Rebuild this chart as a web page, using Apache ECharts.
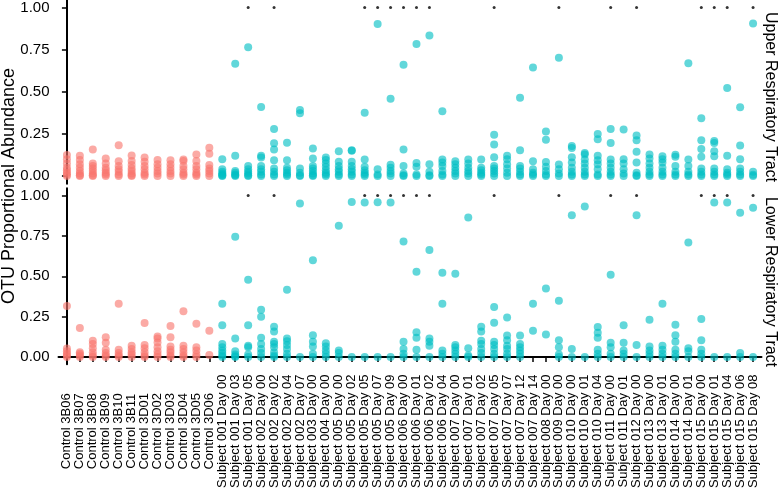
<!DOCTYPE html>
<html>
<head>
<meta charset="utf-8">
<script src="https://cdn.jsdelivr.net/npm/echarts@6/dist/echarts.min.js"></script>
<style>
  html, body { margin: 0; padding: 0; background: #fff; }
  #chart { width: 778px; height: 491px; }
</style>
</head>
<body>
<div id="chart"></div>
<script>
////--------------------------------------------------------------------////
const categories = [
    "Control 3B06", "Control 3B07", "Control 3B08", "Control 3B09", "Control 3B10", "Control 3B11",
    "Control 3D01", "Control 3D02", "Control 3D03", "Control 3D04", "Control 3D05", "Control 3D06",
    "Subject 001 Day 00", "Subject 001 Day 03", "Subject 001 Day 05",
    "Subject 002 Day 00", "Subject 002 Day 02", "Subject 002 Day 04", "Subject 002 Day 07",
    "Subject 003 Day 00", "Subject 004 Day 00",
    "Subject 005 Day 00", "Subject 005 Day 02", "Subject 005 Day 05", "Subject 005 Day 07", "Subject 005 Day 09",
    "Subject 006 Day 00", "Subject 006 Day 01", "Subject 006 Day 02", "Subject 006 Day 04",
    "Subject 007 Day 00", "Subject 007 Day 01", "Subject 007 Day 02", "Subject 007 Day 05",
    "Subject 007 Day 07", "Subject 007 Day 12", "Subject 007 Day 14",
    "Subject 008 Day 00", "Subject 009 Day 00",
    "Subject 010 Day 00", "Subject 010 Day 01", "Subject 010 Day 04",
    "Subject 011 Day 00", "Subject 011 Day 01", "Subject 012 Day 00",
    "Subject 013 Day 00", "Subject 013 Day 01", "Subject 014 Day 00", "Subject 014 Day 01",
    "Subject 015 Day 00", "Subject 015 Day 01", "Subject 015 Day 04", "Subject 015 Day 06", "Subject 015 Day 08"
];
const controlCount = 12;

// Upper Respiratory Tract, one list of OTU values per sample
const upperValues = [
    [0.125, 0.1, 0.075, 0.05, 0.035, 0.02, 0.01, 0],
    [0.12, 0.095, 0.07, 0.05, 0.03, 0.015, 0.005, 0],
    [0.157, 0.075, 0.06, 0.045, 0.03, 0.015, 0.005, 0],
    [0.105, 0.075, 0.05, 0.035, 0.02, 0.01, 0],
    [0.183, 0.088, 0.06, 0.04, 0.025, 0.01, 0],
    [0.122, 0.09, 0.065, 0.045, 0.03, 0.015, 0.005, 0],
    [0.11, 0.085, 0.06, 0.04, 0.02, 0.01, 0],
    [0.095, 0.07, 0.05, 0.03, 0.015, 0],
    [0.094, 0.07, 0.05, 0.03, 0.015, 0],
    [0.098, 0.09, 0.06, 0.04, 0.02, 0.01, 0],
    [0.128, 0.09, 0.06, 0.04, 0.02, 0.01, 0],
    [0.168, 0.133, 0.065, 0.045, 0.03, 0.015, 0],
    [0.1, 0.04, 0.025, 0.015, 0.008, 0.003, 0],
    [0.667, 0.12, 0.03, 0.02, 0.01, 0.005, 0],
    [0.765, 0.06, 0.04, 0.025, 0.015, 0.005, 0],
    [0.41, 0.12, 0.11, 0.06, 0.04, 0.025, 0.01, 0],
    [0.28, 0.195, 0.158, 0.094, 0.045, 0.025, 0.01, 0],
    [0.198, 0.094, 0.05, 0.035, 0.02, 0.01, 0],
    [0.392, 0.373, 0.045, 0.02, 0.005, 0],
    [0.163, 0.104, 0.06, 0.045, 0.03, 0.015, 0.005, 0],
    [0.11, 0.095, 0.075, 0.055, 0.035, 0.02, 0.01, 0],
    [0.147, 0.085, 0.06, 0.04, 0.025, 0.01, 0],
    [0.153, 0.15, 0.085, 0.06, 0.04, 0.025, 0.01, 0],
    [0.376, 0.098, 0.055, 0.035, 0.02, 0.01, 0],
    [0.902, 0.04, 0.01, 0],
    [0.459, 0.067, 0.05, 0.03, 0.015, 0],
    [0.66, 0.158, 0.06, 0.015, 0.005, 0],
    [0.784, 0.078, 0.055, 0.01, 0],
    [0.835, 0.07, 0.025, 0.005, 0],
    [0.384, 0.098, 0.08, 0.06, 0.03, 0.01, 0],
    [0.088, 0.07, 0.05, 0.03, 0.015, 0],
    [0.098, 0.075, 0.05, 0.03, 0.015, 0],
    [0.098, 0.05, 0.035, 0.02, 0.01, 0],
    [0.245, 0.188, 0.111, 0.06, 0.045, 0.03, 0.015, 0],
    [0.12, 0.1, 0.07, 0.045, 0.02, 0],
    [0.465, 0.153, 0.06, 0.045, 0.025, 0.01, 0],
    [0.645, 0.088, 0.04, 0.02, 0.01, 0],
    [0.265, 0.216, 0.084, 0.055, 0.03, 0.01, 0],
    [0.702, 0.069, 0.04, 0.015, 0],
    [0.178, 0.167, 0.111, 0.08, 0.05, 0.025, 0.01, 0],
    [0.137, 0.128, 0.098, 0.075, 0.05, 0.025, 0.01, 0],
    [0.25, 0.218, 0.12, 0.094, 0.07, 0.04, 0.01, 0],
    [0.28, 0.196, 0.098, 0.075, 0.05, 0.025, 0.01, 0],
    [0.277, 0.1, 0.075, 0.04, 0.015, 0],
    [0.241, 0.212, 0.145, 0.08, 0.02, 0.005, 0],
    [0.128, 0.105, 0.075, 0.05, 0.025, 0.01, 0],
    [0.118, 0.1, 0.08, 0.05, 0.025, 0.01, 0],
    [0.127, 0.115, 0.06, 0.025, 0.01, 0],
    [0.669, 0.098, 0.06, 0.025, 0.01, 0],
    [0.343, 0.212, 0.16, 0.114, 0.045, 0.025, 0.01, 0],
    [0.208, 0.196, 0.147, 0.118, 0.045, 0.025, 0.01, 0],
    [0.522, 0.12, 0.04, 0.02, 0.01, 0],
    [0.408, 0.182, 0.1, 0.045, 0.025, 0.01, 0],
    [0.906, 0.025, 0.008, 0]
];

// Lower Respiratory Tract
const lowerValues = [
    [0.316, 0.053, 0.035, 0.02, 0.01, 0],
    [0.18, 0.03, 0.02, 0.01, 0],
    [0.1, 0.08, 0.055, 0.03, 0.01, 0],
    [0.122, 0.088, 0.045, 0.025, 0.01, 0],
    [0.33, 0.045, 0.025, 0.01, 0],
    [0.07, 0.05, 0.03, 0.015, 0],
    [0.21, 0.075, 0.055, 0.03, 0.01, 0],
    [0.127, 0.114, 0.09, 0.06, 0.035, 0.015, 0],
    [0.192, 0.122, 0.065, 0.045, 0.03, 0.01, 0],
    [0.284, 0.07, 0.05, 0.03, 0.01, 0],
    [0.206, 0.06, 0.04, 0.015, 0],
    [0.163, 0.012],
    [0.33, 0.196, 0.08, 0.06, 0.04, 0.025, 0.01, 0],
    [0.745, 0.114, 0.035, 0.015, 0.005, 0],
    [0.478, 0.196, 0.07, 0.06, 0.015, 0],
    [0.293, 0.25, 0.12, 0.08, 0.05, 0.025, 0],
    [0.188, 0.158, 0.094, 0.08, 0.06, 0.03, 0.01, 0],
    [0.416, 0.114, 0.098, 0.075, 0.05, 0.02, 0],
    [0.951, 0],
    [0.6, 0.135, 0.094, 0.065, 0.02, 0],
    [0.085, 0.065, 0.04, 0.02, 0],
    [0.814, 0.04, 0.025, 0],
    [0.961, 0],
    [0.957, 0],
    [0.959, 0],
    [0.957, 0],
    [0.716, 0.094, 0.05, 0.02, 0],
    [0.529, 0.153, 0.12, 0.045, 0],
    [0.663, 0.114, 0.094, 0.07, 0],
    [0.522, 0.33, 0.04, 0.02, 0],
    [0.516, 0.075, 0.06, 0.04, 0.02, 0],
    [0.865, 0.055, 0.01, 0],
    [0.188, 0.158, 0.1, 0.08, 0.05, 0.025, 0],
    [0.31, 0.212, 0.094, 0.075, 0.05, 0.02, 0],
    [0.245, 0.133, 0.104, 0.07, 0.05, 0.02, 0],
    [0.133, 0.08, 0.06, 0.04, 0.02, 0],
    [0.33, 0.163],
    [0.424, 0.139],
    [0.349, 0.104, 0.06, 0.015, 0],
    [0.878, 0.05, 0],
    [0.933, 0],
    [0.186, 0.15, 0.12, 0.045, 0.02, 0],
    [0.51, 0.088, 0.06, 0.02, 0],
    [0.196, 0.088, 0.04, 0.02, 0],
    [0.878, 0.075, 0],
    [0.231, 0.065, 0.04, 0.02, 0],
    [0.33, 0.07, 0.045, 0.02, 0],
    [0.2, 0.135, 0.094, 0.045, 0.02, 0],
    [0.71, 0.055, 0.035, 0],
    [0.235, 0.104, 0.045, 0.02, 0],
    [0.957, 0],
    [0.957, 0],
    [0.894, 0.025, 0],
    [0.925, 0]
];

// samples marked with a star at the top of both panels
const markedSamples = [14, 16, 23, 24, 25, 26, 27, 28, 33, 38, 42, 44, 49, 50, 51, 53];
const markLevel = 1.0;
const yTicks = [0, 0.25, 0.5, 0.75, 1];
////--------------------------------------------------------------------////
const FONT = "Liberation Sans";
const COLOR_CONTROL = "#F8766D";
const COLOR_SUBJECT = "#00BFC4";

function points(values, from, to) {
    const out = [];
    for (let i = from; i < to; i++) {
        values[i].forEach(v => out.push([i, v]));
    }
    return out;
}
function marks() {
    return markedSamples.map(i => [i, markLevel]);
}
////-------------------////
const tickIdx = categories.map((c, i) => i);
const gridTops = [-1.65, 188.35];
const gridH = 185.3;

function xAxisFor(g, showLabels) {
    return {
        type: 'value', gridIndex: g, min: -0.65, max: categories.length - 1 + 0.65,
        splitLine: {show: false},
        axisLine: {show: showLabels, lineStyle: {color: '#000', width: 2}},
        axisTick: {show: showLabels, customValues: tickIdx, length: 5, lineStyle: {color: '#000', width: 1.5}},
        axisLabel: {
            show: showLabels, customValues: tickIdx, rotate: 90,
            align: 'center', verticalAlign: 'middle', margin: 67,
            fontFamily: FONT, fontSize: 13, color: '#000',
            formatter: v => categories[Math.round(v)]
        }
    };
}
function yAxisFor(g) {
    return {
        type: 'value', gridIndex: g, min: -0.045, max: 1.045,
        splitLine: {show: false},
        axisLine: {show: true, lineStyle: {color: '#000', width: 2}},
        axisTick: {show: true, customValues: yTicks, length: 5, lineStyle: {color: '#000', width: 1.5}},
        axisLabel: {
            customValues: yTicks, margin: 9,
            fontFamily: FONT, fontSize: 15, color: '#000',
            formatter: v => v.toFixed(2)
        }
    };
}
function dots(name, g, data, color) {
    return {
        name: name, type: 'scatter', xAxisIndex: g, yAxisIndex: g,
        data: data, symbol: 'circle', symbolSize: 8,
        itemStyle: {color: color, opacity: 0.62}, silent: true
    };
}
function starSeries(g) {
    return {
        type: 'scatter', xAxisIndex: g, yAxisIndex: g,
        data: marks(), symbol: 'circle', symbolSize: 3,
        itemStyle: {color: '#000'}, silent: true
    };
}

const option = {
    animation: false,
    backgroundColor: '#fff',
    grid: gridTops.map(t => ({left: 58.5, width: 703, top: t, height: gridH, containLabel: false})),
    xAxis: [xAxisFor(0, false), xAxisFor(1, true)],
    yAxis: [yAxisFor(0), yAxisFor(1)],
    series: [
        dots('Control', 0, points(upperValues, 0, controlCount), COLOR_CONTROL),
        dots('Subject', 0, points(upperValues, controlCount, categories.length), COLOR_SUBJECT),
        starSeries(0),
        dots('Control', 1, points(lowerValues, 0, controlCount), COLOR_CONTROL),
        dots('Subject', 1, points(lowerValues, controlCount, categories.length), COLOR_SUBJECT),
        starSeries(1)
    ],
    graphic: [
        {type: 'text', x: 9, y: 186, rotation: Math.PI / 2,
         style: {text: 'OTU Proportional Abundance', x: 0, y: 0, align: 'center', verticalAlign: 'middle',
                 font: '18px "' + FONT + '"', fill: '#000'}},
        {type: 'text', x: 770, y: 97, rotation: -Math.PI / 2,
         style: {text: 'Upper Respiratory Tract', x: 0, y: 0, align: 'center', verticalAlign: 'middle',
                 font: '16px "' + FONT + '"', fill: '#000'}},
        {type: 'text', x: 770, y: 282, rotation: -Math.PI / 2,
         style: {text: 'Lower Respiratory Tract', x: 0, y: 0, align: 'center', verticalAlign: 'middle',
                 font: '16px "' + FONT + '"', fill: '#000'}}
    ]
};

const chart = echarts.init(document.getElementById('chart'), null, {renderer: 'canvas'});
chart.setOption(option);
window.addEventListener('resize', chart.resize);
</script>
</body>
</html>
